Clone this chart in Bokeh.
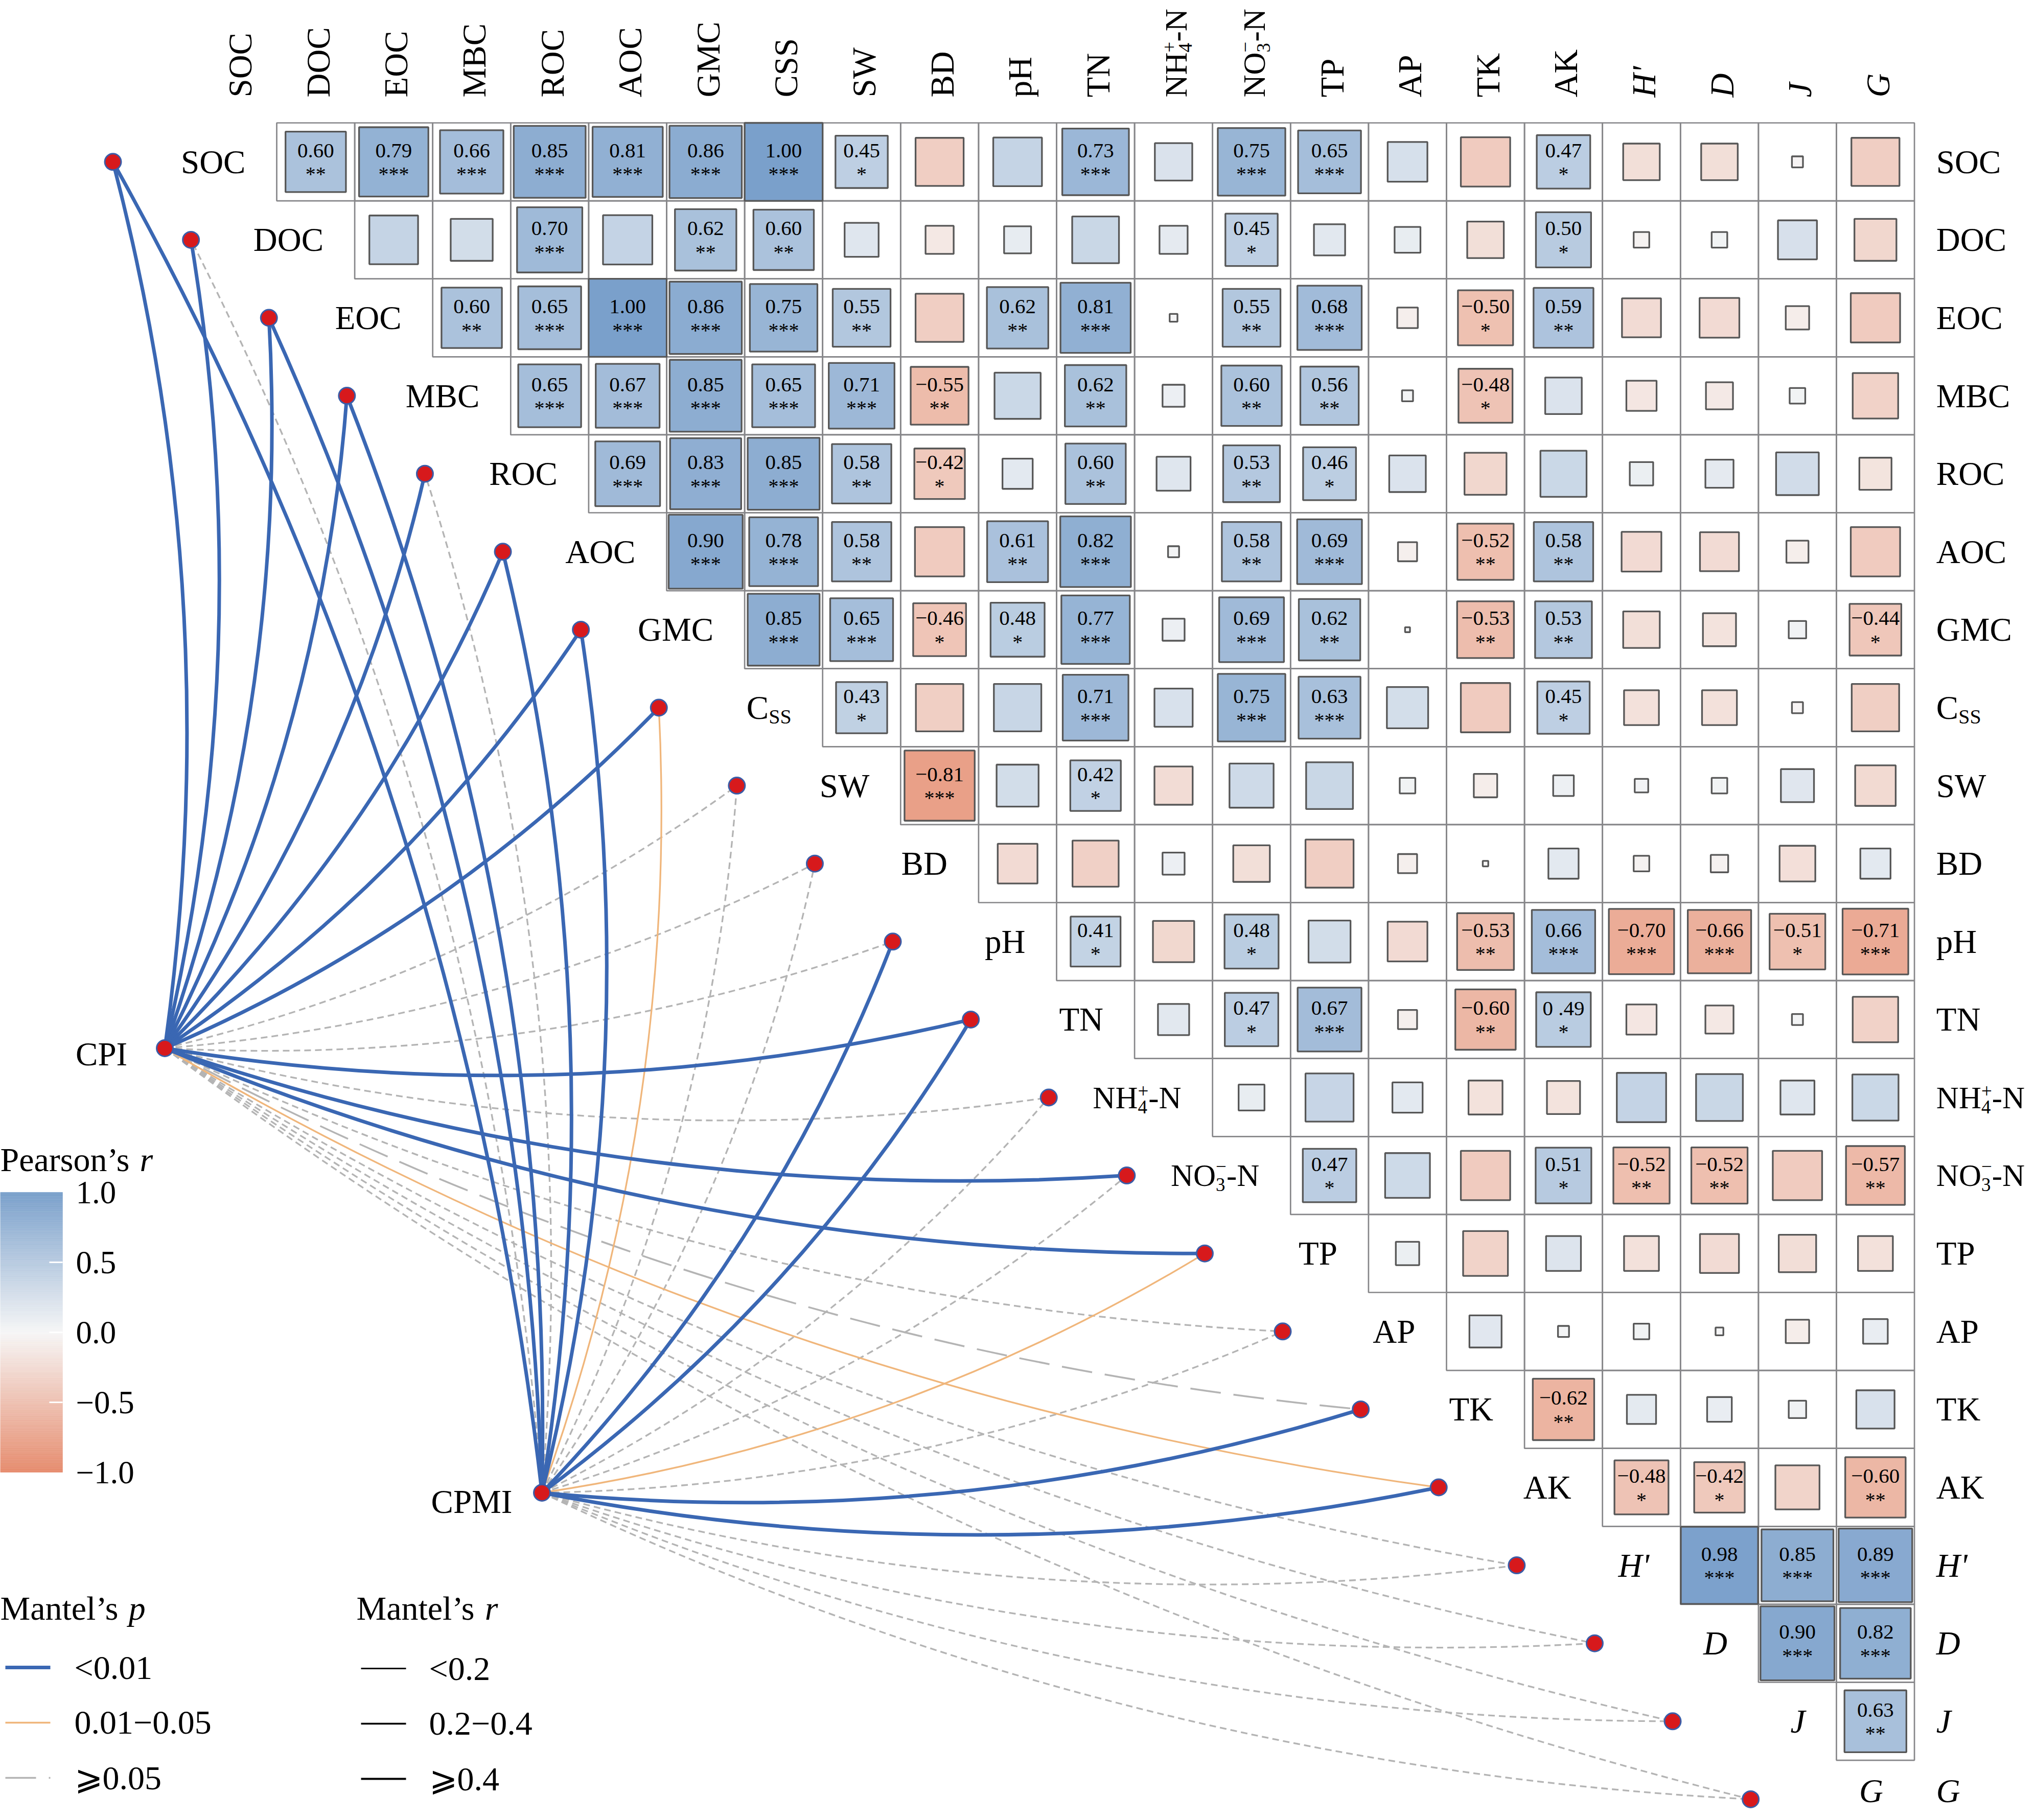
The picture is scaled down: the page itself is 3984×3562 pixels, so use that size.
import math
import numpy as np
from bokeh.plotting import figure
from bokeh.models import Range1d, ColumnDataSource
from bokeh.transform import linear_cmap
from bokeh.core.properties import value
from bokeh.embed import file_html
from bokeh.resources import INLINE

# ---------------------------------------------------------------- data
variables = ["SOC", "DOC", "EOC", "MBC", "ROC", "AOC", "GMC", "CSS", "SW", "BD",
             "pH", "TN", "NH4", "NO3", "TP", "AP", "TK", "AK", "H'", "D", "J", "G"]

# Pearson's r, upper triangle (row i holds columns i+1 .. end)
r_rows = [
    [0.60, 0.79, 0.66, 0.85, 0.81, 0.86, 1.00, 0.45, -0.38, 0.39, 0.73, 0.23, 0.75, 0.65, 0.26, -0.40, 0.47, -0.22, -0.22, -0.02, -0.38],
    [0.39, 0.29, 0.70, 0.40, 0.62, 0.60, 0.19, -0.13, 0.12, 0.36, 0.13, 0.45, 0.16, 0.11, -0.22, 0.50, -0.04, 0.04, 0.25, -0.29],
    [0.60, 0.65, 1.00, 0.86, 0.75, 0.55, -0.38, 0.62, 0.81, 0.01, 0.55, 0.68, -0.07, -0.50, 0.59, -0.25, -0.26, -0.09, -0.40],
    [0.65, 0.67, 0.85, 0.65, 0.71, -0.55, 0.35, 0.62, 0.08, 0.60, 0.56, 0.02, -0.48, 0.22, -0.15, -0.12, 0.04, -0.34],
    [0.69, 0.83, 0.85, 0.58, -0.42, 0.15, 0.60, 0.19, 0.53, 0.46, 0.22, -0.29, 0.35, 0.09, 0.13, 0.30, -0.17],
    [0.90, 0.78, 0.58, -0.40, 0.61, 0.82, 0.02, 0.58, 0.69, -0.06, -0.52, 0.58, -0.26, -0.25, -0.08, -0.40],
    [0.85, 0.65, -0.46, 0.48, 0.77, 0.08, 0.69, 0.62, 0.004, -0.53, 0.53, -0.22, -0.18, 0.05, -0.44],
    [0.43, -0.37, 0.37, 0.71, 0.24, 0.75, 0.63, 0.28, -0.40, 0.45, -0.20, -0.20, -0.02, -0.37],
    [-0.81, 0.29, 0.42, -0.24, 0.32, 0.36, 0.04, -0.09, 0.07, 0.03, 0.04, 0.18, -0.27],
    [-0.26, -0.35, 0.08, -0.22, -0.38, -0.06, -0.005, 0.15, -0.04, -0.05, -0.21, 0.15],
    [0.41, -0.28, 0.48, 0.29, -0.26, -0.53, 0.66, -0.70, -0.66, -0.51, -0.71],
    [0.16, 0.47, 0.67, -0.06, -0.60, 0.49, -0.15, -0.13, 0.02, -0.34],
    [0.11, 0.38, 0.15, -0.19, -0.18, 0.40, 0.36, 0.19, 0.35],
    [0.47, 0.33, -0.40, 0.51, -0.52, -0.52, -0.40, -0.57],
    [0.09, -0.33, 0.20, -0.20, -0.25, -0.23, -0.20],
    [0.17, 0.02, 0.04, 0.01, -0.09, 0.10],
    [-0.62, 0.14, 0.10, 0.05, 0.24],
    [-0.48, -0.42, -0.32, -0.60],
    [0.98, 0.85, 0.89],
    [0.90, 0.82],
    [0.63],
]

sig_rows = [
    ["**", "***", "***", "***", "***", "***", "***", "*", "", "", "***", "", "***", "***", "", "", "*", "", "", "", ""],
    ["", "", "***", "", "**", "**", "", "", "", "", "", "*", "", "", "", "*", "", "", "", ""],
    ["**", "***", "***", "***", "***", "**", "", "**", "***", "", "**", "***", "", "*", "**", "", "", "", ""],
    ["***", "***", "***", "***", "***", "**", "", "**", "", "**", "**", "", "*", "", "", "", "", ""],
    ["***", "***", "***", "**", "*", "", "**", "", "**", "*", "", "", "", "", "", "", ""],
    ["***", "***", "**", "", "**", "***", "", "**", "***", "", "**", "**", "", "", "", ""],
    ["***", "***", "*", "*", "***", "", "***", "**", "", "**", "**", "", "", "", "*"],
    ["*", "", "", "***", "", "***", "***", "", "", "*", "", "", "", ""],
    ["***", "", "*", "", "", "", "", "", "", "", "", "", ""],
    ["", "", "", "", "", "", "", "", "", "", "", ""],
    ["*", "", "*", "", "", "**", "***", "***", "***", "*", "***"],
    ["", "*", "***", "", "**", "*", "", "", "", ""],
    ["", "", "", "", "", "", "", "", ""],
    ["*", "", "", "*", "**", "**", "", "**"],
    ["", "", "", "", "", "", ""],
    ["", "", "", "", "", ""],
    ["**", "", "", "", ""],
    ["*", "*", "", "**"],
    ["***", "***", "***"],
    ["***", "***"],
    ["**"],
]
label_overrides = {("TN", "AK"): "0 .49"}

# Mantel test links (one entry per variable, same order as `variables`)
p_levels = ["<0.01", "0.01\u22120.05", "\u2a7e0.05"]
r_levels = ["<0.2", "0.2\u22120.4", "\u2a7e0.4"]
B, O, Gy = p_levels
R1, R2, R3 = r_levels
cpi_p = [B, B, B, B, B, B, B, B, Gy, Gy, Gy, B, Gy, B, B, Gy, Gy, O, Gy, Gy, Gy, Gy]
cpi_r = [R3, R3, R3, R3, R3, R3, R3, R3, R1, R1, R1, R3, R1, R3, R3, R1, R2, R1, R1, R1, R1, R1]
cpmi_p = [B, Gy, B, B, Gy, B, B, O, Gy, Gy, B, B, Gy, Gy, O, Gy, B, B, Gy, Gy, Gy, Gy]
cpmi_r = [R3, R1, R3, R3, R1, R3, R3, R1, R1, R1, R3, R3, R1, R1, R1, R1, R3, R3, R1, R1, R1, R1]

colorbar_ticks = [1.0, 0.5, 0.0, -0.5, -1.0]

# ---------------------------------------------------------------- layout
CELL = 152.6                 # px per matrix cell
OX, OY = 464.7, 316.3        # canvas px of the centre of cell (row 0, col 0)
W, H = 3968, 3546
FONT = value("Liberation Serif")
MID = 0.3375                 # em-box middle above the baseline


def X(px):
    return (px - OX) / CELL


def Y(py):
    return (OY - py) / CELL


def px(d):
    return d / CELL


p = figure(width=W, height=H, output_backend="svg", toolbar_location=None,
           x_range=Range1d(X(0), X(W)), y_range=Range1d(Y(H), Y(0)),
           min_border=0)
p.axis.visible = False
p.grid.visible = False
p.outline_line_color = None
p.background_fill_color = "white"

n = len(variables)


def hexc(c):
    return "#%02x%02x%02x" % tuple(int(round(v)) for v in c)


neg_c, mid_c, pos_c = np.array([230, 140, 110]), np.array([246, 246, 246]), np.array([122, 160, 203])
palette = []
for t in np.linspace(-1, 1, 255):
    c = mid_c + (-t) * (neg_c - mid_c) if t < 0 else mid_c + t * (pos_c - mid_c)
    palette.append(hexc(c))
cmap = linear_cmap("r", palette, -1, 1)


def fmt(v):
    return ("\u2212" if v < 0 else "") + f"{abs(v):.2f}"


# ---------------------------------------------------------------- matrix
cx, cy, rr, side, ntxt, ny, stxt, sy, tx = [], [], [], [], [], [], [], [], []
for i in range(len(r_rows)):
    assert len(r_rows[i]) == n - 1 - i and len(sig_rows[i]) == n - 1 - i
    for k, j in enumerate(range(i + 1, n)):
        r = r_rows[i][k]
        s = sig_rows[i][k]
        cx.append(j)
        cy.append(-i)
        rr.append(r)
        side.append(math.sqrt(abs(r)))
        if s:
            tx.append(j)
            ntxt.append(label_overrides.get((variables[i], variables[j]), fmt(r)))
            ny.append(-i + px(22))
            stxt.append(s)
            sy.append(-i - px(24))

cells = ColumnDataSource(dict(x=cx, y=cy, r=rr, side=side))
p.rect(x="x", y="y", width=1, height=1, source=cells, fill_color=None,
       line_color="#868689", line_width=2.7)
p.rect(x="x", y="y", width="side", height="side", source=cells, fill_color=cmap,
       line_color="#575757", line_width=3.3)
p.text(x=tx, y=ny, text=ntxt, text_font=FONT, text_font_size="41px",
       text_align="center", text_baseline="middle", text_color="black")
p.text(x=tx, y=sy, text=stxt, text_font=FONT, text_font_size="40px",
       text_align="center", text_baseline="middle", text_color="black")

# ---------------------------------------------------------------- labels
TW = {"C": .667, "S": .556, "N": .722, "H": .722, "O": .722, "-": .333,
      "3": .5, "4": .5, "+": .564, "\u2212": .564}
LS = 65
CAP = 21.5


def pieces_for(name, top):
    if name == "CSS":
        if top:
            return [[("CSS", LS, 0)]]
        return [[("C", LS, 0)], [("SS", 40, 9)]]
    if name == "NH4":
        return [[("NH", 61, 0)], [("4", 37, 9), ("+", 37, -22)], [("-N", 61, 0)]]
    if name == "NO3":
        return [[("NO", 61, 0)], [("3", 37, 9), ("\u2212", 37, -27)], [("-N", 61, 0)]]
    return [[(name, LS, 0)]]


def style_for(name):
    return "italic" if name in ("H'", "D", "J", "G") else "normal"


def adv(group):
    return max(sum(TW.get(ch, .5) for ch in t) * sz for t, sz, _ in group)


def shift(sz, dy):
    # downward offset (px) of a piece's em-middle from the label's centre line
    return CAP + dy - MID * sz if dy else 0.0


def draw_label(name, ax, ay, align, top=False):
    groups = pieces_for(name, top)
    st = style_for(name)
    total = sum(adv(g) for g in groups)
    if top:
        cur = ay
        for g in groups:
            for t, sz, dy in g:
                p.text(x=[ax + px(shift(sz, dy))], y=[cur], text=[t], angle=math.pi / 2,
                       text_font=FONT, text_font_size=f"{sz}px", text_font_style=st,
                       text_align="left", text_baseline="middle", text_color="black")
            cur += px(adv(g))
        return
    if len(groups) == 1:
        t, sz, dy = groups[0][0]
        p.text(x=[ax], y=[ay], text=[t],
               text_font=FONT, text_font_size=f"{sz}px", text_font_style=st,
               text_align=align, text_baseline="middle", text_color="black")
        return
    cur = ax - px(total) if align == "right" else ax
    for g in groups:
        for t, sz, dy in g:
            p.text(x=[cur], y=[ay - px(shift(sz, dy))], text=[t],
                   text_font=FONT, text_font_size=f"{sz}px", text_font_style=st,
                   text_align="left", text_baseline="middle", text_color="black")
        cur += px(adv(g))


LOWEST = Y(H - 42)           # keep the last row's labels inside the canvas
for k, name in enumerate(variables):
    row_y = max(-k, LOWEST)
    draw_label(name, k + px(5), Y(190), "left", top=True)
    draw_label(name, k + 0.1, row_y, "right")
    draw_label(name, 21.78, row_y, "left")

# ---------------------------------------------------------------- links
node_offset = -1.6
var_x = [k + node_offset for k in range(n)]
var_y = [-k for k in range(n)]
hubs = {"CPI": (X(322), Y(2051)), "CPMI": (X(1060), Y(2921))}
hub_p = {"CPI": cpi_p, "CPMI": cpmi_p}
hub_r = {"CPI": cpi_r, "CPMI": cpmi_r}

p_color = {B: "#3a67b3", O: "#f0b67b", Gy: "#b4b4b4"}
r_width = {R1: 3.3, R2: 3.5, R3: 7.0}
BEND = 0.1

groups = {}
for h, (hx, hy) in hubs.items():
    for k in range(n):
        pk, rk = hub_p[h][k], hub_r[h][k]
        x1, y1 = var_x[k], var_y[k]
        dx, dy = x1 - hx, y1 - hy
        g = groups.setdefault((pk, rk), dict(x0=[], y0=[], x1=[], y1=[], cx=[], cy=[]))
        g["x0"].append(hx); g["y0"].append(hy)
        g["x1"].append(x1); g["y1"].append(y1)
        g["cx"].append((hx + x1) / 2 + BEND * dy)
        g["cy"].append((hy + y1) / 2 - BEND * dx)

order = [(Gy, R1), (Gy, R2), (Gy, R3), (O, R1), (O, R2), (O, R3), (B, R1), (B, R2), (B, R3)]
for key in order:
    if key not in groups:
        continue
    pk, rk = key
    dash = "solid"
    if pk == Gy:
        dash = "60 25" if rk == R2 else "13 8"
    p.quadratic(x0="x0", y0="y0", x1="x1", y1="y1", cx="cx", cy="cy",
                source=ColumnDataSource(groups[key]), line_color=p_color[pk],
                line_width=r_width[rk], line_dash=dash)

pt_x = var_x + [hubs["CPI"][0], hubs["CPMI"][0]]
pt_y = var_y + [hubs["CPI"][1], hubs["CPMI"][1]]
p.scatter(x=pt_x, y=pt_y, size=32, fill_color="#d7191c", line_color="#3a5da8", line_width=3)

p.text(x=[hubs["CPI"][0] - 0.48], y=[hubs["CPI"][1] - px(11)], text=["CPI"], text_font=FONT,
       text_font_size=f"{LS}px", text_align="right", text_baseline="middle", text_color="black")
p.text(x=[hubs["CPMI"][0] - 0.38], y=[hubs["CPMI"][1] - px(17)], text=["CPMI"], text_font=FONT,
       text_font_size=f"{LS}px", text_align="right", text_baseline="middle", text_color="black")

# ---------------------------------------------------------------- colour bar
CB_MID, CB_HALF = 2607, 274


def cb_y(v):
    return Y(CB_MID - v * CB_HALF)


edges = np.linspace(-1, 1, 201)
cb = ColumnDataSource(dict(bottom=[cb_y(a) for a in edges[:-1]], top=[cb_y(b) for b in edges[1:]],
                           r=list((edges[:-1] + edges[1:]) / 2)))
p.quad(left=X(0), right=X(122), bottom="bottom", top="top", source=cb,
       fill_color=cmap, line_color=cmap, line_width=0.5)
inner = [v for v in colorbar_ticks if abs(v) < 1]
p.segment(x0=[X(96)] * len(inner), x1=[X(122)] * len(inner), y0=[cb_y(v) for v in inner],
          y1=[cb_y(v) for v in inner], line_color="white", line_width=3)
p.text(x=[X(148)] * len(colorbar_ticks), y=[cb_y(v) for v in colorbar_ticks],
       text=[f"{v:.1f}".replace("-", "\u2212") for v in colorbar_ticks], text_font=FONT,
       text_font_size="63px", text_align="left", text_baseline="middle", text_color="black")

LT = 66


def title(x0, yc, normal, ital):
    w = {"Pearson\u2019s ": 4.138, "Mantel\u2019s ": 3.805}[normal] * LT
    p.text(x=[X(x0)], y=[Y(yc)], text=[normal], text_font=FONT, text_font_size=f"{LT}px",
           text_align="left", text_baseline="middle", text_color="black")
    p.text(x=[X(x0 + w)], y=[Y(yc)], text=[ital], text_font=FONT, text_font_size=f"{LT}px",
           text_font_style="italic", text_align="left", text_baseline="middle", text_color="black")


title(0, 2269, "Pearson\u2019s ", "r")

# ---------------------------------------------------------------- Mantel legends
title(0, 3147, "Mantel\u2019s ", "p")
title(697, 3147, "Mantel\u2019s ", "r")
LEG_Y0, LEG_DY = 3263, 108
for i, lev in enumerate(p_levels):
    yy = Y(LEG_Y0 + i * LEG_DY)
    dash = "60 25" if lev == Gy else "solid"
    wdt = 7.0 if lev == B else 3.3
    p.segment(x0=[X(10)], x1=[X(98)], y0=[yy], y1=[yy], line_color=p_color[lev],
              line_width=wdt, line_dash=dash)
    p.text(x=[X(145)], y=[yy], text=[lev], text_font=FONT, text_font_size=f"{LT}px",
           text_align="left", text_baseline="middle", text_color="black")
for i, lev in enumerate(r_levels):
    yy = Y(LEG_Y0 + 2 + i * LEG_DY)
    p.segment(x0=[X(706)], x1=[X(794)], y0=[yy], y1=[yy], line_color="black",
              line_width=[3.0, 3.5, 4.0][i])
    p.text(x=[X(839)], y=[yy], text=[lev], text_font=FONT, text_font_size=f"{LT}px",
           text_align="left", text_baseline="middle", text_color="black")

open("out.html", "w").write(file_html(p, INLINE))
